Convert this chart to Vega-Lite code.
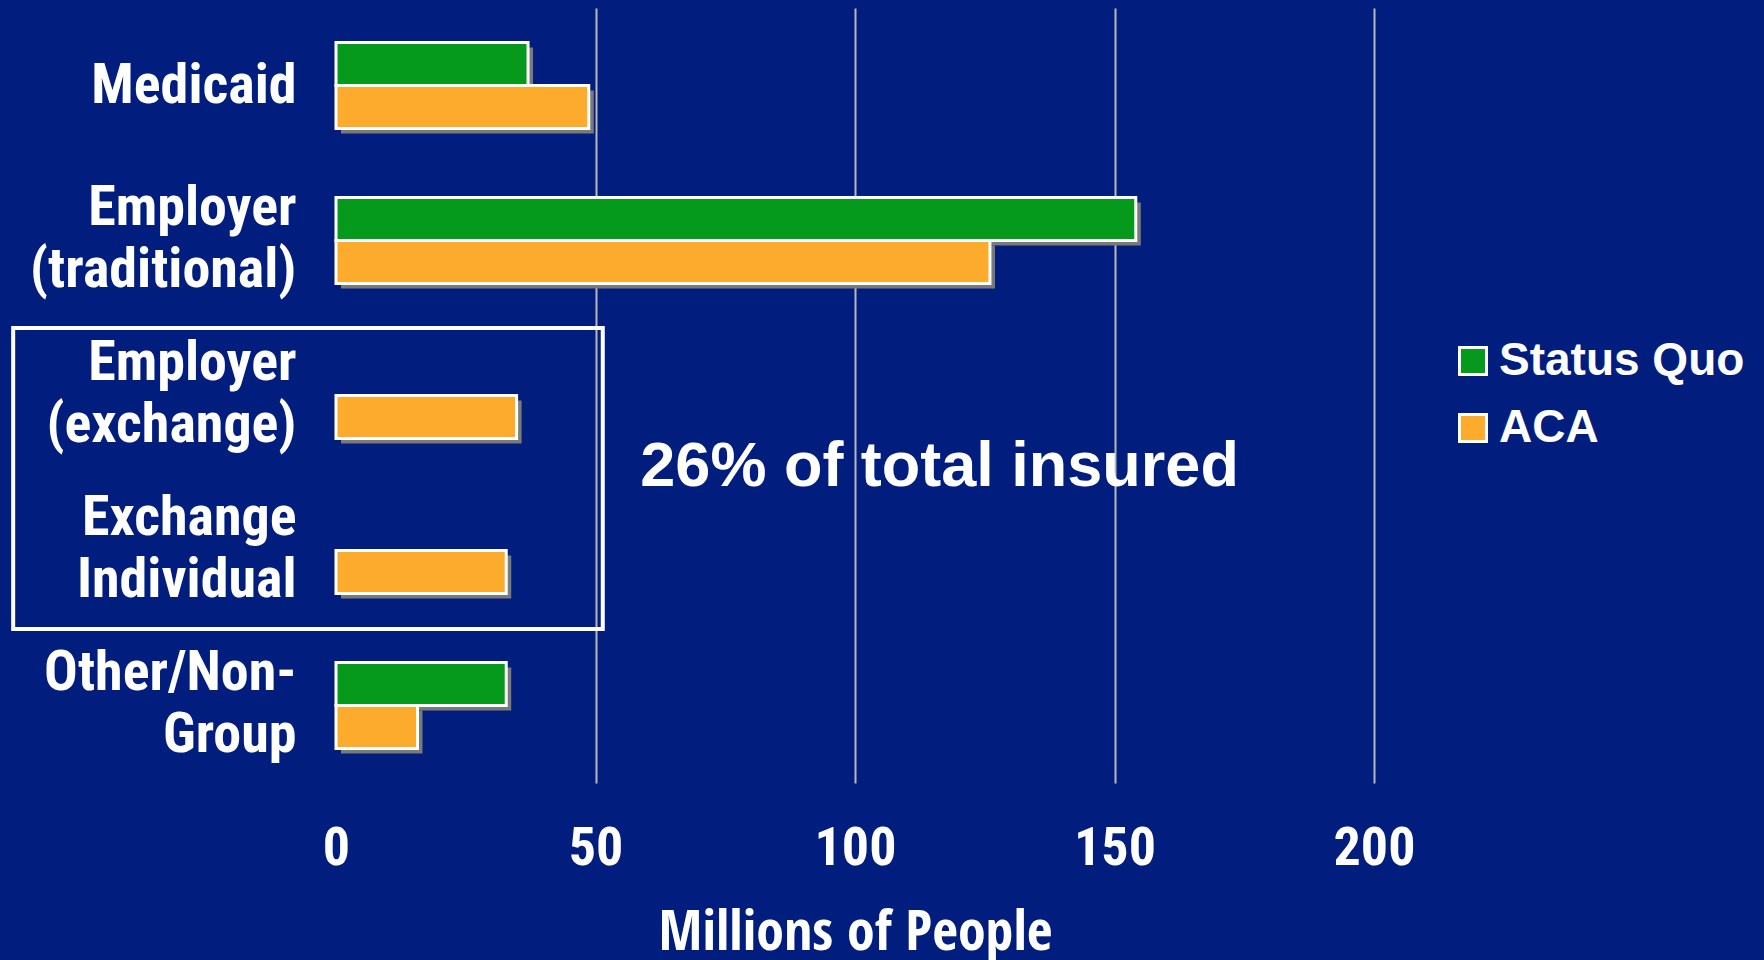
{
  "$schema": "https://vega.github.io/schema/vega-lite/v6.json",
  "width": 1038,
  "height": 775,
  "autosize": {"type": "none"},
  "padding": {"left": 336, "top": 8, "right": 390, "bottom": 177},
  "background": "#011e7e",
  "config": {"view": {"stroke": null}, "font": "Liberation Sans"},
  "datasets": {
    "coverage": [
      {"category": "Medicaid", "series": "Status Quo", "value": 37},
      {"category": "Medicaid", "series": "ACA", "value": 48.7},
      {"category": "Employer (traditional)", "series": "Status Quo", "value": 154.1},
      {"category": "Employer (traditional)", "series": "ACA", "value": 126},
      {"category": "Employer (exchange)", "series": "ACA", "value": 34.8},
      {"category": "Exchange Individual", "series": "ACA", "value": 32.8},
      {"category": "Other/Non-Group", "series": "Status Quo", "value": 32.8},
      {"category": "Other/Non-Group", "series": "ACA", "value": 15.7}
    ]
  },
  "resolve": {"scale": {"yOffset": "independent"}},
  "layer": [
    {
      "data": {"name": "coverage"},
      "mark": {"type": "bar", "color": "#7a7a7a", "xOffset": 5},
      "encoding": {
        "x": {"field": "value", "type": "quantitative", "scale": {"domain": [0, 200], "nice": false},
          "axis": {
            "values": [0, 50, 100, 150, 200],
            "grid": true,
            "gridColor": "#b8b8b8",
            "gridWidth": 2,
            "gridOpacity": {"condition": {"test": "datum.value === 0", "value": 0}, "value": 1},
            "domain": false,
            "ticks": false,
            "labelFlush": false,
            "labelPadding": 38,
            "labelFontSize": 54,
            "labelFontWeight": "bold",
            "labelColor": "white",
            "labelFont": "Roboto Condensed",
            "title": "Millions of People",
            "titleFontSize": 56,
            "titleFontWeight": "bold",
            "titleColor": "white",
            "titleFont": "Open Sans Condensed",
            "titlePadding": 30
          }
        },
        "y": {"field": "category", "type": "nominal",
          "sort": ["Medicaid", "Employer (traditional)", "Employer (exchange)", "Exchange Individual", "Other/Non-Group"],
          "scale": {"paddingInner": 0.445, "paddingOuter": 0.2225},
          "axis": {
            "title": null,
            "domain": false,
            "ticks": false,
            "labelPadding": 40,
            "labelFontSize": 56,
            "labelFontWeight": "bold",
            "labelColor": "white",
            "labelFont": "Roboto Condensed",
            "labelLineHeight": 62,
            "labelLimit": 400,
            "labelOffset": {"condition": {"test": "datum.value != 'Medicaid'", "value": -33}, "value": 0},
            "labelExpr": "datum.value == 'Employer (traditional)' ? ['Employer','(traditional)'] : datum.value == 'Employer (exchange)' ? ['Employer','(exchange)'] : datum.value == 'Exchange Individual' ? ['Exchange','Individual'] : datum.value == 'Other/Non-Group' ? ['Other/Non-','Group'] : datum.value"
          }
        },
        "yOffset": {"field": "series", "type": "nominal", "scale": {"domain": ["Status Quo", "ACA"], "range": [5, 91]}}
      }
    },
    {
      "data": {"name": "coverage"},
      "mark": {"type": "bar", "stroke": "white", "strokeWidth": 3},
      "encoding": {
        "x": {"field": "value", "type": "quantitative"},
        "y": {"field": "category", "type": "nominal",
          "sort": ["Medicaid", "Employer (traditional)", "Employer (exchange)", "Exchange Individual", "Other/Non-Group"]},
        "yOffset": {"field": "series", "type": "nominal", "scale": {"domain": ["Status Quo", "ACA"]}},
        "color": {"field": "series", "type": "nominal",
          "scale": {"domain": ["Status Quo", "ACA"], "range": ["#069a1c", "#fdab2d"]},
          "legend": {
            "orient": "none",
            "legendX": 1114,
            "legendY": 330,
            "title": null,
            "padding": 0,
            "symbolType": "square",
            "symbolSize": 729,
            "symbolStrokeColor": "white",
            "symbolStrokeWidth": 3,
            "symbolOpacity": 1,
            "labelFont": "Liberation Sans",
            "labelFontWeight": "bold",
            "labelFontSize": 46,
            "labelColor": "white",
            "labelOffset": 3,
            "rowPadding": 21,
            "labelLimit": 400
          }
        }
      }
    },
    {
      "data": {"values": [{}]},
      "mark": {"type": "rect", "filled": false, "stroke": "white", "strokeWidth": 4, "clip": false},
      "encoding": {
        "x": {"datum": -62.2, "type": "quantitative"},
        "x2": {"datum": 51.4},
        "y": {"datum": "Employer (exchange)", "type": "nominal", "bandPosition": -0.285},
        "y2": {"datum": "Exchange Individual", "bandPosition": 1.413}
      }
    },
    {
      "data": {"values": [{}]},
      "mark": {"type": "text", "font": "Liberation Sans", "fontWeight": "bold", "fontSize": 63, "color": "white", "align": "center", "baseline": "middle"},
      "encoding": {
        "x": {"datum": 116.3, "type": "quantitative"},
        "y": {"datum": "Employer (exchange)", "type": "nominal", "bandPosition": 1.33},
        "text": {"value": "26% of total insured"}
      }
    }
  ]
}
